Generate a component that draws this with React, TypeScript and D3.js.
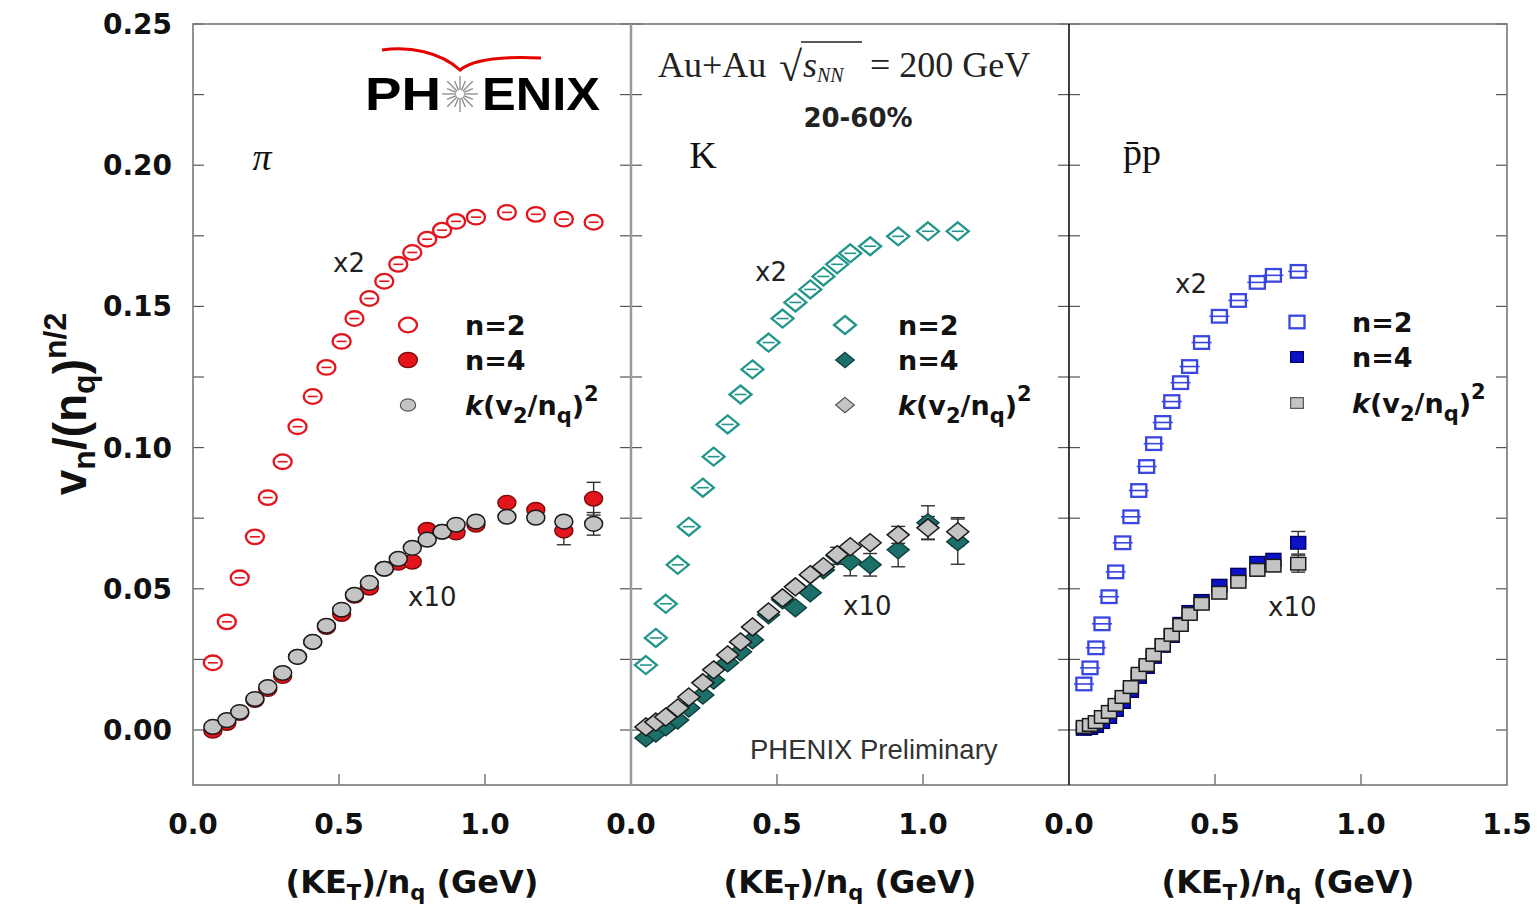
import React from 'react';
import * as d3 from 'd3';

// ---------------- data ----------------
// pions
const piKET = [0.068, 0.116, 0.160, 0.212, 0.256, 0.307, 0.358, 0.410, 0.457, 0.509, 0.553, 0.604, 0.655, 0.703, 0.751, 0.802, 0.853, 0.901, 0.969, 1.075, 1.174, 1.270, 1.372];
const piV2 = [0.0238, 0.0383, 0.0539, 0.0684, 0.0823, 0.0950, 0.1074, 0.1181, 0.1284, 0.1376, 0.1457, 0.1528, 0.1589, 0.1649, 0.1691, 0.1738, 0.1770, 0.1801, 0.1816, 0.1833, 0.1826, 0.1809, 0.1798];
const piV4 = [-0.0003, 0.0025, 0.0060, 0.0106, 0.0145, 0.0191, 0.0259, 0.0312, 0.0365, 0.0411, 0.0475, 0.0504, 0.0571, 0.0592, 0.0596, 0.0709, 0.0702, 0.0699, 0.0727, 0.0805, 0.0780, 0.0706, 0.0819];
const piV4Err = [0, 0, 0, 0, 0, 0, 0, 0, 0, 0, 0, 0, 0, 0, 0, 0, 0, 0, 0, 0.001, 0.002, 0.005, 0.0058];
const piKv = [0.0011, 0.0035, 0.0064, 0.0110, 0.0152, 0.0202, 0.0259, 0.0312, 0.0369, 0.0426, 0.0479, 0.0521, 0.0571, 0.0606, 0.0645, 0.0674, 0.0702, 0.0727, 0.0738, 0.0755, 0.0752, 0.0738, 0.0730];
const piKvErr = [0, 0, 0, 0, 0, 0, 0, 0, 0, 0, 0, 0, 0, 0, 0, 0, 0, 0, 0, 0.001, 0.001, 0.002, 0.004];

// kaons
const kaKET = [0.051, 0.085, 0.119, 0.160, 0.198, 0.246, 0.283, 0.331, 0.375, 0.416, 0.471, 0.519, 0.563, 0.614, 0.659, 0.706, 0.751, 0.819, 0.915, 1.017, 1.119];
const kaV2 = [0.0230, 0.0326, 0.0447, 0.0585, 0.0720, 0.0858, 0.0968, 0.1082, 0.1188, 0.1277, 0.1372, 0.1457, 0.1514, 0.1560, 0.1606, 0.1649, 0.1688, 0.1713, 0.1748, 0.1766, 0.1766];
const kaV4 = [-0.0028, -0.0011, 0.0011, 0.0035, 0.0078, 0.0124, 0.0177, 0.0238, 0.0277, 0.0319, 0.0408, 0.0461, 0.0433, 0.0486, 0.0567, 0.0617, 0.0596, 0.0585, 0.0638, 0.0734, 0.0667];
const kaV4Err = [0, 0, 0, 0, 0, 0, 0, 0, 0, 0, 0, 0, 0.001, 0.002, 0.002, 0.003, 0.005, 0.004, 0.006, 0.006, 0.008];
const kaKv = [0.0011, 0.0028, 0.0046, 0.0078, 0.0117, 0.0167, 0.0213, 0.0266, 0.0312, 0.0365, 0.0418, 0.0468, 0.0507, 0.0550, 0.0578, 0.0621, 0.0649, 0.0663, 0.0691, 0.0716, 0.0702];
const kaKvErr = [0, 0, 0, 0, 0, 0, 0, 0, 0, 0, 0, 0, 0, 0.001, 0.001, 0.002, 0.002, 0.002, 0.003, 0.004, 0.005];

// anti-protons + protons
const prKET = [0.051, 0.072, 0.092, 0.113, 0.137, 0.160, 0.184, 0.212, 0.239, 0.266, 0.290, 0.321, 0.352, 0.382, 0.413, 0.454, 0.515, 0.580, 0.645, 0.700, 0.785];
const prV2 = [0.0163, 0.0220, 0.0291, 0.0376, 0.0472, 0.0560, 0.0663, 0.0755, 0.0848, 0.0933, 0.1014, 0.1089, 0.1163, 0.1230, 0.1287, 0.1372, 0.1465, 0.1521, 0.1585, 0.1610, 0.1624];
const prV4 = [0.0004, 0.0007, 0.0014, 0.0028, 0.0046, 0.0071, 0.0099, 0.0138, 0.0188, 0.0223, 0.0259, 0.0298, 0.0333, 0.0376, 0.0418, 0.0457, 0.0511, 0.0550, 0.0592, 0.0603, 0.0663];
const prV4Err = [0, 0, 0, 0, 0, 0, 0, 0, 0, 0, 0, 0, 0, 0, 0, 0, 0, 0.001, 0.001, 0.002, 0.004];
const prKv = [0.0011, 0.0018, 0.0028, 0.0046, 0.0064, 0.0089, 0.0117, 0.0152, 0.0199, 0.0230, 0.0266, 0.0301, 0.0337, 0.0372, 0.0411, 0.0447, 0.0486, 0.0525, 0.0567, 0.0582, 0.0589];
const prKvErr = [0, 0, 0, 0, 0, 0, 0, 0, 0, 0, 0, 0, 0, 0, 0, 0, 0, 0, 0.001, 0.001, 0.003];

// axes
const yTickValues = [0, 0.05, 0.10, 0.15, 0.20, 0.25];
const yMinorValues = [0, 0.025, 0.05, 0.075, 0.10, 0.125, 0.15, 0.175, 0.20, 0.225, 0.25];
const xTickValues = [0, 0.5, 1.0];
const xLastTick = 1.5;
const legendLabels = ['n=2', 'n=4'];
const particleNames = ['π', 'K', 'p̄p'];
const xAxisTitle = ['(KE', 'T', ')/n', 'q', ' (GeV)'];

// ---------------- layout ----------------
const W = 1537, H = 905;
const TOP = 24, BOTTOM = 785;
const edges = [193, 631, 1069, 1507];

const y = d3.scaleLinear().domain([0, 0.25]).range([730, TOP]);
const xScales = [0, 1, 2].map(i => d3.scaleLinear().domain([0, 1.5]).range([edges[i], edges[i + 1]]));

type Shape = 'circle' | 'diamond' | 'square';

function MarkerShape({ shape, fill, stroke, sw, big }: { shape: Shape; fill: string; stroke: string; sw: number; big?: number }) {
  const k = big ?? 1;
  if (shape === 'circle') return <ellipse rx={9 * k} ry={7.3 * k} fill={fill} stroke={stroke} strokeWidth={sw} />;
  if (shape === 'diamond') {
    const a = 11 * k, b = 9 * k;
    return <path d={`M0,${-b}L${a},0L0,${b}L${-a},0Z`} fill={fill} stroke={stroke} strokeWidth={sw} />;
  }
  const a = 7.5 * k, b = 6.3 * k;
  return <rect x={-a} y={-b} width={2 * a} height={2 * b} fill={fill} stroke={stroke} strokeWidth={sw} />;
}

const panels = [
  {
    ket: piKET, v2: piV2, v4: piV4, v4Err: piV4Err, kv: piKv, kvErr: piKvErr, shape: 'circle' as Shape,
    c2: '#e3141c', c4: '#e3141c', s4: '#7a0a0a', inner: 5,
    nameX: 262, nameY: 170, nameStyle: 'italic',
    x2: [333, 272], x10: [408, 606],
    leg: { mx: 408, tx: 465, ys: [325, 360, 405] },
  },
  {
    ket: kaKET, v2: kaV2, v4: kaV4, v4Err: kaV4Err, kv: kaKv, kvErr: kaKvErr, shape: 'diamond' as Shape,
    c2: '#23968b', c4: '#1d6f69', s4: '#0c3f3b', inner: 6,
    nameX: 703, nameY: 168, nameStyle: 'normal',
    x2: [755, 281], x10: [843, 615],
    leg: { mx: 845, tx: 898, ys: [325, 360, 405] },
  },
  {
    ket: prKET, v2: prV2, v4: prV4, v4Err: prV4Err, kv: prKv, kvErr: prKvErr, shape: 'square' as Shape,
    c2: '#3a46e0', c4: '#0b12c8', s4: '#000060', inner: 10,
    nameX: 1142, nameY: 165, nameStyle: 'normal',
    x2: [1175, 293], x10: [1268, 616],
    leg: { mx: 1297, tx: 1352, ys: [322, 357, 403] },
  },
];

const GRAY_FILL = '#c4c4c4';
const GRAY_STROKE = '#1a1a1a';
const TICK = '#555';
const BOLD = "'DejaVu Sans', sans-serif";
const SANS = "'Liberation Sans', Arial, sans-serif";
const SERIF = "'Liberation Serif', 'Times New Roman', serif";

function ErrBars({ xs, vs, es, sx }: { xs: number[]; vs: number[]; es: number[]; sx: d3.ScaleLinear<number, number> }) {
  return (
    <g stroke="#333" strokeWidth={1.4}>
      {xs.map((kx, i) => {
        if (!es[i] || es[i] < 0.0025) return null;
        const cx = sx(kx), y1 = y(vs[i] + es[i]), y2 = y(vs[i] - es[i]);
        return (
          <g key={i}>
            <line x1={cx} x2={cx} y1={y1} y2={y2} />
            <line x1={cx - 7} x2={cx + 7} y1={y1} y2={y1} />
            <line x1={cx - 7} x2={cx + 7} y1={y2} y2={y2} />
          </g>
        );
      })}
    </g>
  );
}

function Panel({ p, i }: { p: typeof panels[number]; i: number }) {
  const sx = xScales[i];
  const left = edges[i], right = edges[i + 1];
  return (
    <g>
      {/* ticks */}
      <g stroke={TICK} strokeWidth={1.2}>
        {yMinorValues.map(v => (
          <g key={v}>
            <line x1={left} x2={left + 11} y1={y(v)} y2={y(v)} />
            <line x1={right - 11} x2={right} y1={y(v)} y2={y(v)} />
          </g>
        ))}
        {xTickValues.slice(1).map(v => (
          <line key={v} x1={sx(v)} x2={sx(v)} y1={BOTTOM} y2={BOTTOM - 11} />
        ))}
      </g>
      {/* x tick labels */}
      <g fontFamily={BOLD} fontWeight="bold" fontSize={28} textAnchor="middle" fill="#111">
        {(i === 2 ? [...xTickValues, xLastTick] : xTickValues).map(v => (
          <text key={v} x={sx(v)} y={834}>{d3.format('.1f')(v)}</text>
        ))}
      </g>
      {/* x axis title */}
      <text x={(left + right) / 2} y={893} textAnchor="middle" fontFamily={BOLD} fontWeight="bold" fontSize={32} fill="#111">
        {xAxisTitle[0]}<tspan fontSize={21} dy={7}>{xAxisTitle[1]}</tspan><tspan dy={-7}>{xAxisTitle[2]}</tspan>
        <tspan fontSize={21} dy={7}>{xAxisTitle[3]}</tspan><tspan dy={-7}>{xAxisTitle[4]}</tspan>
      </text>

      {/* n=2 (scaled x2) */}
      <g>
        {p.ket.map((kx, j) => (
          <g key={j} transform={`translate(${sx(kx)},${y(p.v2[j])})`}>
            <MarkerShape shape={p.shape} fill="white" stroke={p.c2} sw={2.3} />
            <line x1={-p.inner} x2={p.inner} y1={0} y2={0} stroke={p.c2} strokeWidth={1.6} />
          </g>
        ))}
      </g>

      {/* error bars */}
      <ErrBars xs={p.ket} vs={p.v4} es={p.v4Err} sx={sx} />
      <ErrBars xs={p.ket} vs={p.kv} es={p.kvErr} sx={sx} />

      {/* n=4 (scaled x10) */}
      <g>
        {p.ket.map((kx, j) => (
          <g key={j} transform={`translate(${sx(kx)},${y(p.v4[j])})`}>
            <MarkerShape shape={p.shape} fill={p.c4} stroke={p.s4} sw={1.4} />
          </g>
        ))}
      </g>
      {/* k (v2/nq)^2 */}
      <g>
        {p.ket.map((kx, j) => (
          <g key={j} transform={`translate(${sx(kx)},${y(p.kv[j])})`}>
            <MarkerShape shape={p.shape} fill={GRAY_FILL} stroke={GRAY_STROKE} sw={1.5} />
          </g>
        ))}
      </g>

      {/* particle name */}
      <text x={p.nameX} y={p.nameY} textAnchor="middle" fontFamily={SERIF} fontStyle={p.nameStyle} fontSize={38} fill="#111">
        {particleNames[i]}
      </text>
      {/* scale labels */}
      <g fontFamily={BOLD} fontSize={26} fill="#222">
        <text x={p.x2[0]} y={p.x2[1]}>x2</text>
        <text x={p.x10[0]} y={p.x10[1]}>x10</text>
      </g>

      {/* legend */}
      <g>
        <g transform={`translate(${p.leg.mx},${p.leg.ys[0]})`}>
          <MarkerShape shape={p.shape} fill="white" stroke={p.c2} sw={2.3} />
        </g>
        <g transform={`translate(${p.leg.mx},${p.leg.ys[1]})`}>
          <MarkerShape shape={p.shape} fill={p.c4} stroke={p.s4} sw={1.2} big={i === 0 ? 1.05 : 0.85} />
        </g>
        <g transform={`translate(${p.leg.mx},${p.leg.ys[2]})`}>
          <MarkerShape shape={p.shape} fill={GRAY_FILL} stroke="#555" sw={1.2} big={0.85} />
        </g>
        <g fontFamily={BOLD} fontWeight="bold" fontSize={27} fill="#111">
          <text x={p.leg.tx} y={p.leg.ys[0] + 10}>{legendLabels[0]}</text>
          <text x={p.leg.tx} y={p.leg.ys[1] + 10}>{legendLabels[1]}</text>
          <text x={p.leg.tx} y={p.leg.ys[2] + 10}>
            <tspan fontStyle="italic">k</tspan>(v<tspan fontSize={21} dy={8}>2</tspan><tspan dy={-8}>/n</tspan>
            <tspan fontSize={21} dy={8}>q</tspan><tspan dy={-8}>)</tspan><tspan fontSize={21} dy={-14}>2</tspan>
          </text>
        </g>
      </g>
    </g>
  );
}

function Logo() {
  const rays = d3.range(16).map(k => (k * Math.PI) / 8);
  return (
    <g>
      <path d="M382,50 C410,46 440,52 460,70 C472,60 500,56 541,58" fill="none" stroke="#e60000" strokeWidth={3} />
      <text x={365} y={110} fontFamily={SANS} fontWeight="bold" fontSize={46} textLength={76} lengthAdjust="spacingAndGlyphs" fill="#000">PH</text>
      <g stroke="#8a8a8a" strokeWidth={1.3}>
        {rays.map((a, k) => (
          <line key={k} x1={460 + 4 * Math.cos(a)} y1={94 + 4 * Math.sin(a)} x2={460 + (k % 2 ? 14 : 18) * Math.cos(a)} y2={94 + (k % 2 ? 14 : 18) * Math.sin(a)} />
        ))}
      </g>
      <text x={482} y={110} fontFamily={SANS} fontWeight="bold" fontSize={46} textLength={118} lengthAdjust="spacingAndGlyphs" fill="#000">ENIX</text>
    </g>
  );
}

export default function App() {
  return (
    <svg width={W} height={H} viewBox={`0 0 ${W} ${H}`} style={{ position: 'absolute', left: 0, top: 0, display: 'block', background: '#fff' }}>
      <rect x={0} y={0} width={W} height={H} fill="#fff" />
      {/* y tick labels */}
      <g fontFamily={BOLD} fontWeight="bold" fontSize={28} textAnchor="end" fill="#111">
        {yTickValues.map(v => (
          <text key={v} x={172} y={y(v) + 10}>{d3.format('.2f')(v)}</text>
        ))}
      </g>
      {/* y axis title */}
      <text transform="translate(86,404) rotate(-90)" textAnchor="middle" fontFamily={SANS} fontWeight="bold" fontSize={46} fill="#111">
        v<tspan fontSize={32} dy={9}>n</tspan><tspan dy={-9}>/(n</tspan><tspan fontSize={32} dy={9}>q</tspan><tspan dy={-9}>)</tspan>
        <tspan fontSize={32} dy={-20}>n/2</tspan>
      </text>

      {panels.map((p, i) => <Panel key={i} p={p} i={i} />)}

      {/* frame */}
      <rect x={edges[0]} y={TOP} width={edges[3] - edges[0]} height={BOTTOM - TOP} fill="none" stroke="#777" strokeWidth={1.6} />
      <line x1={edges[1]} x2={edges[1]} y1={TOP} y2={BOTTOM} stroke="#999" strokeWidth={2.5} />
      <line x1={edges[2]} x2={edges[2]} y1={TOP} y2={BOTTOM} stroke="#111" strokeWidth={1.6} />

      <Logo />

      {/* header texts in panel 2 */}
      <g fontFamily={SERIF} fontSize={36} fill="#222">
        <text x={658} y={77}>Au+Au</text>
        <text x={779} y={81} fontSize={42}>√</text>
        <line x1={801} x2={862} y1={42} y2={42} stroke="#222" strokeWidth={1.5} />
        <text x={803} y={77} fontStyle="italic">s<tspan fontSize={20} dy={5}>NN</tspan></text>
        <text x={870} y={77}>= 200 GeV</text>
      </g>
      <text x={858} y={127} textAnchor="middle" fontFamily={BOLD} fontWeight="bold" fontSize={26} fill="#222">20-60%</text>
      <text x={750} y={759} fontFamily={SANS} fontSize={27.5} fill="#333">PHENIX Preliminary</text>
    </svg>
  );
}
